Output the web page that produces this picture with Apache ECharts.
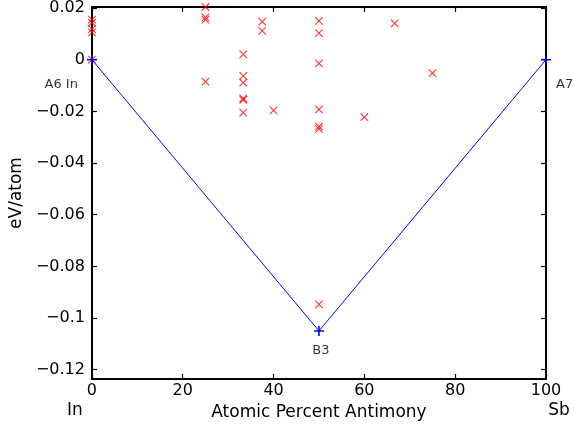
<!DOCTYPE html>
<html>
<head>
<meta charset="utf-8">
<script src="https://cdn.jsdelivr.net/npm/echarts@6/dist/echarts.min.js"></script>
<style>html,body{margin:0;padding:0;background:#fff}#c{width:574px;height:429px}</style>
</head>
<body>
<div id="c"></div>
<script>
// ---- data ----
var hullX = [0, 50, 100];
var hullY = [0, -0.105, 0];
var hullNames = ['A6 In', 'B3', 'A7'];
var structX = [0, 0, 0, 0, 0,
  25, 25, 25, 25,
  33.33, 33.33, 33.33, 33.33, 33.33, 33.33,
  37.5, 37.5,
  40,
  50, 50, 50, 50, 50, 50, 50,
  60, 66.67, 75];
var structY = [0.0155, 0.0143, 0.0118, 0.0106, 0,
  0.0204, 0.0164, 0.0155, -0.0085,
  0.0021, -0.0063, -0.0089, -0.0150, -0.0155, -0.0205,
  0.0147, 0.0112,
  -0.0196,
  0.0150, 0.0103, -0.0014, -0.0192, -0.0259, -0.0268, -0.0947,
  -0.0222, 0.0141, -0.0052];
var xTicks = [0, 20, 40, 60, 80, 100];
var yTicks = [-0.12, -0.1, -0.08, -0.06, -0.04, -0.02, 0, 0.02];
var xTitle = 'Atomic Percent Antimony';
var yTitle = 'eV/atom';
var endLabels = ['In', 'Sb'];

var FONT = 'DejaVu Sans';
var chart = echarts.init(document.getElementById('c'), null, {renderer: 'canvas'});

function fmtY(v) {
  if (Math.abs(v) < 1e-12) return '0';
  var s = String(Number(Math.abs(v).toFixed(2)));
  return (v < 0 ? '\u2212' : '') + s;
}

var structData = structX.map(function (x, i) { return [x, structY[i]]; });
var hullData = hullX.map(function (x, i) { return [x, hullY[i]]; });
var labelOpts = [
  {align: 'right', offset: [-14, 25]},
  {align: 'center', offset: [2, 20]},
  {align: 'left', offset: [10, 25]}
];
var labelData = hullX.map(function (x, i) {
  return {
    value: [x, hullY[i]], name: hullNames[i],
    label: {show: true, position: 'inside', formatter: '{b}', color: '#000',
      fontFamily: FONT, fontSize: 13, align: labelOpts[i].align,
      verticalAlign: 'middle', offset: labelOpts[i].offset}
  };
});

var lineStyleAx = {color: '#000', width: 2};
var commonX = {
  type: 'value', min: 0, max: 100, interval: 20,
  splitLine: {show: false},
  axisLine: {show: true, onZero: false, lineStyle: lineStyleAx},
  axisTick: {show: true, inside: true, length: 5, lineStyle: {color: '#000', width: 1.2}}
};
var commonY = {
  type: 'value', min: -0.1236, max: 0.0204,
  splitLine: {show: false},
  axisLine: {show: true, onZero: false, lineStyle: lineStyleAx},
  axisTick: {show: true, inside: true, length: 5, customValues: yTicks, lineStyle: {color: '#000', width: 1.2}}
};

var option = {
  backgroundColor: '#fff',
  animation: false,
  grid: {left: 89, right: 28, top: 7, bottom: 50, containLabel: false},
  xAxis: [
    Object.assign({}, commonX, {
      position: 'bottom',
      name: xTitle, nameLocation: 'middle', nameGap: 23,
      nameTextStyle: {fontFamily: FONT, fontSize: 17, color: '#000'},
      axisLabel: {show: true, fontFamily: FONT, fontSize: 16, color: '#000', margin: 4,
        customValues: xTicks}
    }),
    Object.assign({}, commonX, {position: 'top', axisLabel: {show: false}})
  ],
  yAxis: [
    Object.assign({}, commonY, {
      position: 'left',
      name: yTitle, nameLocation: 'middle', nameGap: 66, nameRotate: 90,
      nameTextStyle: {fontFamily: FONT, fontSize: 17, color: '#000'},
      axisLabel: {show: true, fontFamily: FONT, fontSize: 16, color: '#000', margin: 7,
        customValues: yTicks, formatter: fmtY}
    }),
    Object.assign({}, commonY, {position: 'right', axisLabel: {show: false}})
  ],
  series: [
    {
      type: 'scatter', data: structData, xAxisIndex: 0, yAxisIndex: 0,
      symbol: 'path://M0,0L10,10M10,0L0,10', symbolSize: 7.5,
      itemStyle: {color: 'transparent', borderColor: '#ff0000', borderWidth: 1.1},
      emphasis: {disabled: true}, z: 2
    },
    {
      type: 'line', data: hullData, xAxisIndex: 0, yAxisIndex: 0,
      symbol: 'path://M5,0L5,10M0,5L10,5', symbolSize: 10, showAllSymbol: true,
      lineStyle: {color: '#0000ff', width: 1},
      itemStyle: {color: 'transparent', borderColor: '#0000ff', borderWidth: 1.6},
      emphasis: {disabled: true}, z: 3
    },
    {
      type: 'scatter', data: labelData, xAxisIndex: 0, yAxisIndex: 0,
      symbolSize: 1, itemStyle: {color: 'transparent'}, z: 4,
      emphasis: {disabled: true}
    }
  ],
  graphic: [
    {type: 'text', x: 75, y: 411, style: {text: endLabels[0], font: '17px "DejaVu Sans"', fill: '#000', align: 'center', verticalAlign: 'middle'}},
    {type: 'text', x: 559, y: 411, style: {text: endLabels[1], font: '17px "DejaVu Sans"', fill: '#000', align: 'center', verticalAlign: 'middle'}}
  ]
};
chart.setOption(option);
</script>
</body>
</html>
